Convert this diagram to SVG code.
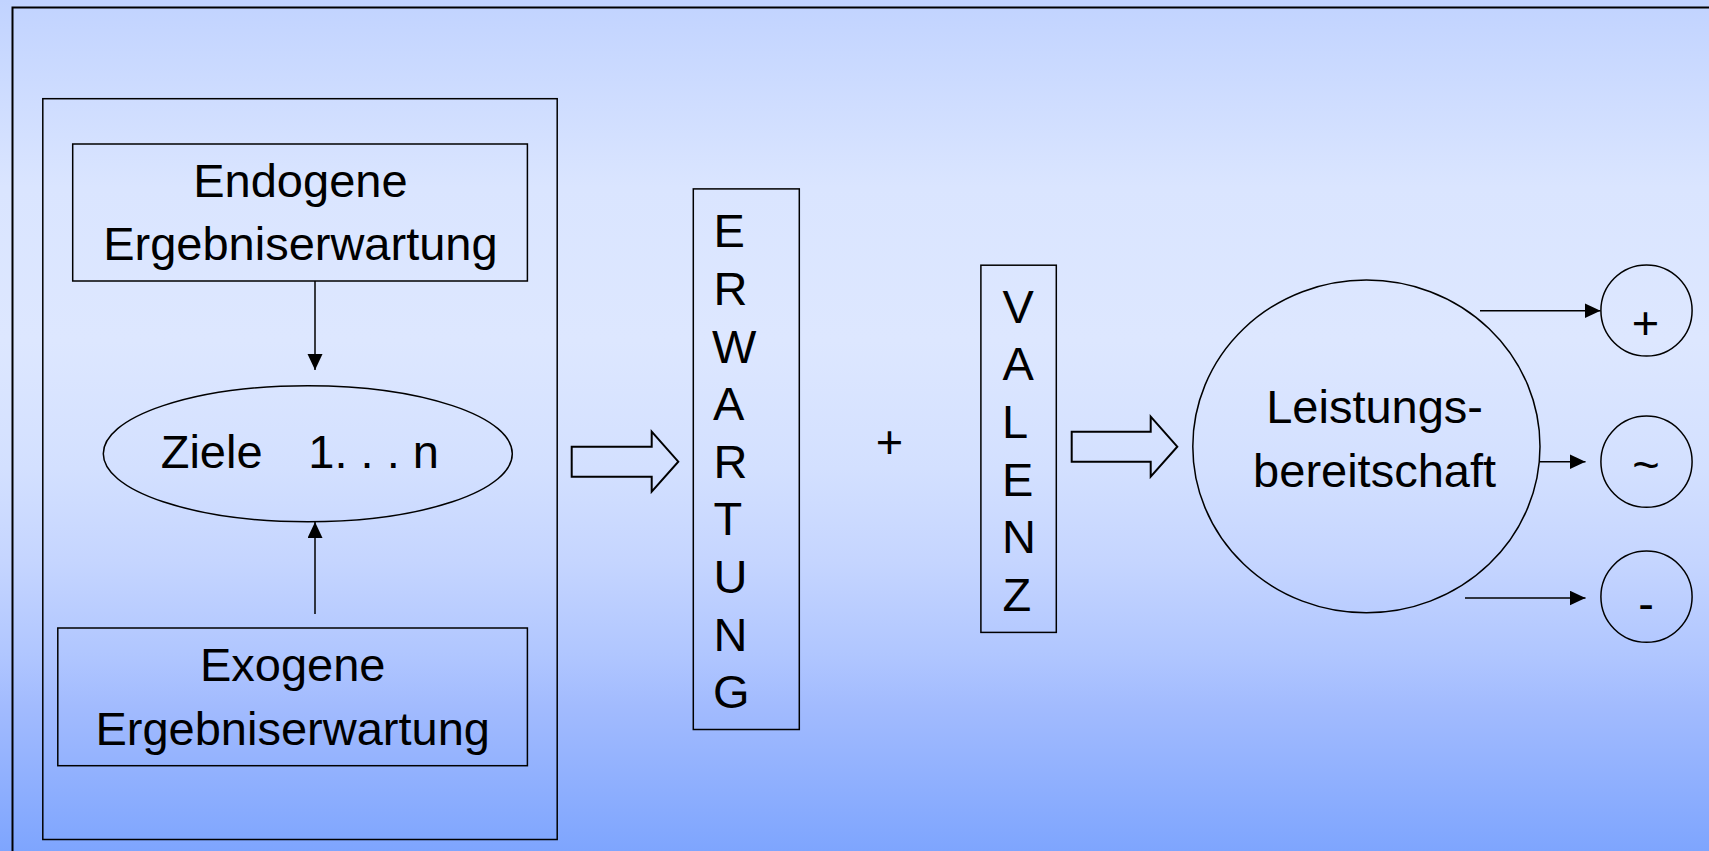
<svg xmlns="http://www.w3.org/2000/svg" width="1709" height="851" viewBox="0 0 1709 851">
<defs>
<linearGradient id="bg" x1="0" y1="0" x2="0" y2="1">
<stop offset="0" stop-color="#c1d3ff"/>
<stop offset="0.22" stop-color="#dae5ff"/>
<stop offset="0.40" stop-color="#dde7ff"/>
<stop offset="0.55" stop-color="#d3e0ff"/>
<stop offset="0.66" stop-color="#c5d5ff"/>
<stop offset="0.77" stop-color="#b0c6ff"/>
<stop offset="0.83" stop-color="#a2bbfe"/>
<stop offset="1" stop-color="#7ea5fe"/>
</linearGradient>
<marker id="ah" markerUnits="userSpaceOnUse" markerWidth="16" markerHeight="16" refX="16" refY="7.5" orient="auto">
<path d="M0,0 L16,7.5 L0,15 z" fill="#000"/>
</marker>
<style>
.s{fill:none;stroke:#000;stroke-width:1.5}
.t{font-family:"Liberation Sans",Arial,sans-serif;font-size:47px;fill:#000}
.m{text-anchor:middle}
.c{fill:none;stroke:#000;stroke-width:1.5}
</style>
</defs>
<rect x="0" y="0" width="1709" height="851" fill="url(#bg)"/>
<rect x="12.5" y="7.5" width="1760" height="900" fill="none" stroke="#000" stroke-width="2"/>

<g id="gruppe">
<rect class="s" x="42.8" y="98.7" width="514.4" height="740.8" stroke-width="2"/>
</g>
<g id="endogene">
<rect class="s" x="72.7" y="144" width="454.7" height="137"/>
<text class="t m" x="300.4" y="197">Endogene</text>
<text class="t m" x="300.4" y="260">Ergebniserwartung</text>
</g>
<g id="ziele">
<ellipse class="s" cx="307.8" cy="453.7" rx="204.5" ry="68"/>
<text class="t" x="160.7" y="468.3">Ziele <tspan x="308.3">1. . . n</tspan></text>
</g>
<g id="exogene">
<rect class="s" x="57.8" y="628" width="469.6" height="137.7"/>
<text class="t m" x="292.7" y="681">Exogene</text>
<text class="t m" x="292.7" y="745">Ergebniserwartung</text>
</g>
<g id="erwartung">
<rect class="s" x="693.3" y="188.9" width="106" height="540.6"/>
<text class="t" x="713.5" y="247.4">E</text>
<text class="t" x="713.5" y="305">R</text>
<text class="t" x="712" y="362.6">W</text>
<text class="t" x="713" y="420.2">A</text>
<text class="t" x="713.5" y="477.8">R</text>
<text class="t" x="713.5" y="535.4">T</text>
<text class="t" x="713.5" y="593">U</text>
<text class="t" x="713.5" y="650.6">N</text>
<text class="t" x="713" y="708.2">G</text>
</g>
<g id="plus">
<text class="t m" x="889.6" y="458">+</text>
</g>
<g id="valenz">
<rect class="s" x="980.9" y="265.2" width="75.4" height="367.2"/>
<text class="t" x="1002.5" y="322.7">V</text>
<text class="t" x="1002.5" y="380.3">A</text>
<text class="t" x="1002" y="437.9">L</text>
<text class="t" x="1002" y="495.5">E</text>
<text class="t" x="1002" y="553.1">N</text>
<text class="t" x="1002.5" y="610.7">Z</text>
</g>
<g id="leistungsbereitschaft">
<ellipse class="s" cx="1366.4" cy="446.4" rx="173.6" ry="166.4"/>
<text class="t m" x="1374.6" y="422.7">Leistungs-</text>
<text class="t m" x="1374.6" y="486.5">bereitschaft</text>
</g>
<g id="positiv">
<circle class="c" cx="1646.5" cy="310.5" r="45.6"/>
<text class="t m" x="1645.5" y="339">+</text>
</g>
<g id="neutral">
<circle class="c" cx="1646.5" cy="461.7" r="45.6"/>
<text class="t m" x="1646" y="480.5">~</text>
</g>
<g id="negativ">
<circle class="c" cx="1646.5" cy="596.7" r="45.6"/>
<text class="t m" x="1646" y="620">-</text>
</g>

<g id="connectors" fill="none" stroke="#000" stroke-width="1.5">
<line x1="315" y1="281" x2="315" y2="370" marker-end="url(#ah)"/>
<line x1="315" y1="614" x2="315" y2="522" marker-end="url(#ah)"/>
<path d="M571.7,446.7 H651.7 V431.7 L678.3,461.7 L651.7,491.7 V476.7 H571.7 Z" stroke-width="2"/>
<path d="M1071.7,431.7 H1150.7 V416.7 L1177.3,446.7 L1150.7,476.7 V461.7 H1071.7 Z" stroke-width="2"/>
<line x1="1480" y1="310.7" x2="1600.5" y2="310.7" marker-end="url(#ah)"/>
<line x1="1540" y1="461.7" x2="1585.5" y2="461.7" marker-end="url(#ah)"/>
<line x1="1465" y1="598" x2="1585.5" y2="598" marker-end="url(#ah)"/>
</g>
</svg>
